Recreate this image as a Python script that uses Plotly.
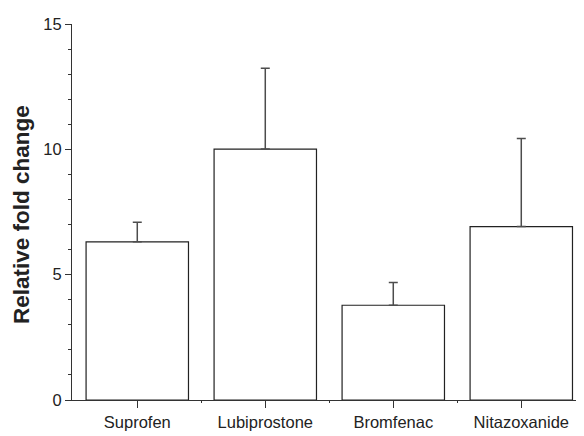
import plotly.graph_objects as go

categories = ["Suprofen", "Lubiprostone", "Bromfenac", "Nitazoxanide"]
fold_change = [6.31, 10.01, 3.78, 6.92]
error_plus = [0.78, 3.22, 0.91, 3.51]
y_ticks = [0, 5, 10, 15]

xpos = list(range(len(categories)))

fig = go.Figure()
fig.add_trace(go.Bar(
    x=xpos, y=fold_change, width=0.8,
    marker=dict(color="white", line=dict(color="#222222", width=1.2)),
    error_y=dict(type="data", array=error_plus, symmetric=False,
                 arrayminus=[0] * len(error_plus),
                 color="#4d4d4d", thickness=1.5, width=4.5),
    showlegend=False,
))

font_family = "Liberation Sans, Arial, sans-serif"

fig.update_layout(
    width=576, height=428,
    margin=dict(l=64, r=0, t=16, b=36),
    paper_bgcolor="white", plot_bgcolor="white",
    font=dict(family=font_family, size=16.5, color="#222222"),
    xaxis=dict(
        range=[-0.51, 3.49], tickmode="array", tickvals=xpos, ticktext=categories,
        showline=True, linecolor="#333333", linewidth=1.2,
        ticks="outside", ticklen=7, tickcolor="#333333", tickwidth=1.2,
        showgrid=False, zeroline=False,
        tickfont=dict(size=16.5),
        minor=dict(tickmode="array", tickvals=[0.5, 1.5, 2.5], ticks="outside",
                   ticklen=2, tickcolor="#333333", tickwidth=1.2),
    ),
    yaxis=dict(
        range=[0, 15], tickmode="array", tickvals=y_ticks,
        showline=True, linecolor="#333333", linewidth=1.2,
        ticks="outside", ticklen=6, tickcolor="#333333", tickwidth=1.2,
        showgrid=False, zeroline=False,
        tickfont=dict(size=16.5),
        minor=dict(dtick=1, ticks="outside", ticklen=3, tickcolor="#333333", tickwidth=1.2),
    ),
    annotations=[dict(
        text="<b>Relative fold change</b>", textangle=-90,
        xref="paper", yref="paper", x=-0.0985, y=0.4934,
        xanchor="center", yanchor="middle", showarrow=False,
        font=dict(family=font_family, size=22.5, color="#222222"),
    )],
)

fig.write_html("out.html")
